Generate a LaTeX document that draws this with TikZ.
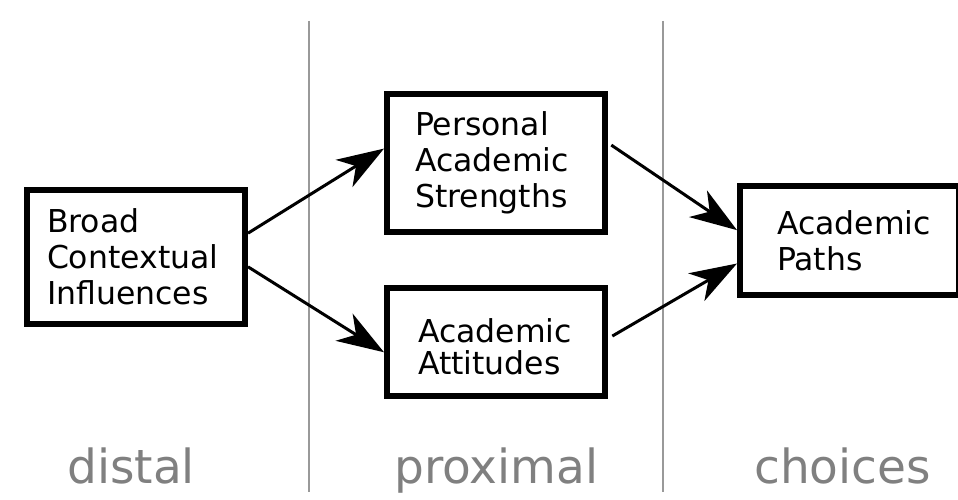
\documentclass[tikz,border=0pt]{standalone}
\usepackage{fontspec}
\setmainfont{DejaVu Sans}
\usetikzlibrary{arrows.meta,calc}
\definecolor{labelgray}{HTML}{808080}
\definecolor{sepgray}{HTML}{999999}
\tikzset{
  box/.style={draw=black, line width=6pt, fill=white, align=left,
    font=\fontsize{31.5}{36}\selectfont, inner ysep=0pt},
  conn/.style={line width=3pt, -{Stealth[length=47pt, width=32pt, inset=14pt]}},
  sep/.style={draw=sepgray, line width=1.5pt},
  phase/.style={text=labelgray, font=\fontsize{47}{56}\selectfont, anchor=base west, inner sep=0pt}
}
\begin{document}
\begin{tikzpicture}[x=1pt, y=-1pt]
\useasboundingbox (0,0) rectangle (958,500);
% separators
\coordinate (s1t) at (309,21); \coordinate (s1b) at (309,492);
\coordinate (s2t) at (663,21); \coordinate (s2b) at (663,492);
\draw[sep] (s1t) -- (s1b);
\draw[sep] (s2t) -- (s2b);
% boxes
\node[box, inner xsep=20pt, text width=178pt, minimum width=218pt, minimum height=134pt] (b1) at (136,257) {Broad\\Contextual\\Influences};
\node[box, inner xsep=28pt, text width=162pt, minimum width=218pt, minimum height=138pt] (b2) at (496,163) {Personal\\Academic\\Strengths};
\node[box, inner xsep=31pt, text width=156pt, minimum width=218pt, minimum height=108pt,
      font=\fontsize{31.5}{32}\selectfont] (b3) at (496,342) {\rule{0pt}{34pt}Academic\\Attitudes};
\node[box, inner xsep=37pt, text width=145pt, minimum width=219pt, minimum height=109pt] (b4) at (849.5,240.5) {Academic\\Paths};
% connectors
\draw[conn] ($(b1.north east)!0.33!(b1.south east)$) -- ($(b2.north west)!0.40!(b2.south west)$);
\draw[conn] ($(b1.north east)!0.57!(b1.south east)$) -- ($(b3.north west)!0.59!(b3.south west)$);
\draw[conn, shorten <=4pt] ($(b2.north east)!0.36!(b2.south east)$) -- ($(b4.north west)!0.41!(b4.south west)$);
\draw[conn, shorten <=5pt] ($(b3.north east)!0.47!(b3.south east)$) -- ($(b4.north west)!0.70!(b4.south west)$);
% phase labels
\node[phase] (l1) at (67,483) {distal};
\node[phase] (l2) at (394,483) {proximal};
\node[phase] (l3) at (754,483) {choices};
\end{tikzpicture}
\end{document}
